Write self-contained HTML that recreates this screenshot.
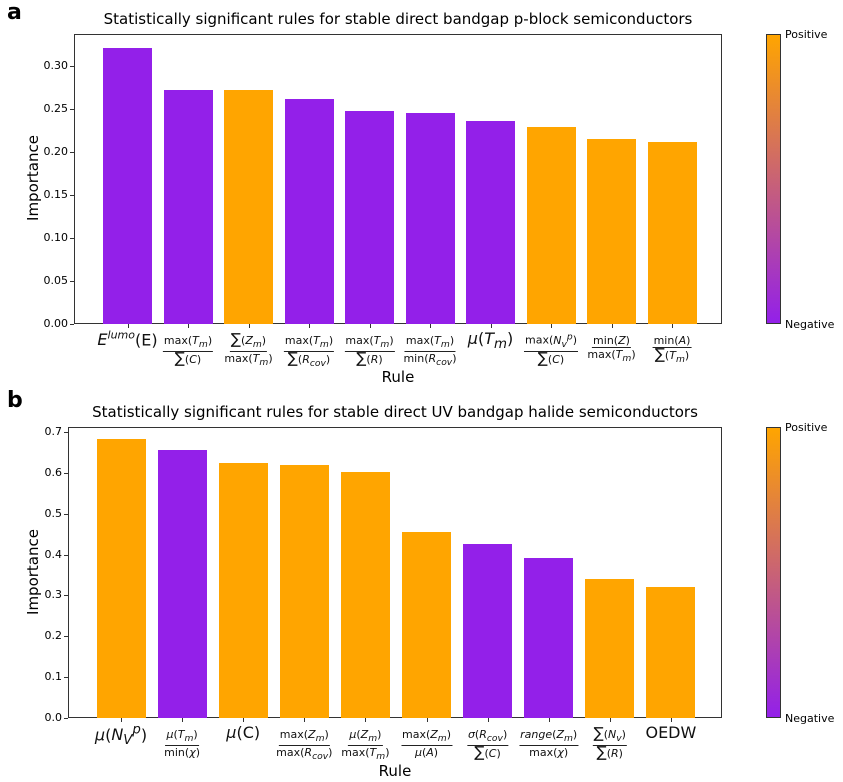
<!DOCTYPE html>
<html><head><meta charset="utf-8"><style>
body{margin:0;background:#fff;font-family:"DejaVu Sans","Liberation Sans",sans-serif;}
#root{position:relative;width:843px;height:782px;overflow:hidden;background:#fff}
.abs{position:absolute}
.panel{font-weight:bold;font-size:22px}
.title{font-size:15px;white-space:nowrap;transform:translateX(-50%)}
.ytick{font-size:11px;text-align:right;width:40px}
.lab{transform:translateX(-50%);text-align:center;white-space:nowrap;color:#111}
.frac{display:inline-flex;flex-direction:column;align-items:center;font-size:11px;line-height:13px}
.frac .n{border-bottom:1px solid #222;padding:0 1px}
.frac .s{font-size:15px}
.big{font-size:16px}
.axt{font-size:15px}
i{font-style:italic}
</style></head><body><div id="root"></div>
<script>
const catsA=['E^{lumo}(E)','max(Tm)/∑(C)','∑(Zm)/max(Tm)','max(Tm)/∑(Rcov)','max(Tm)/∑(R)','max(Tm)/min(Rcov)','μ(Tm)','max(NvP)/∑(C)','min(Z)/max(Tm)','min(A)/∑(Tm)'];
const valsA=[0.320,0.272,0.272,0.261,0.247,0.245,0.235,0.229,0.215,0.211];
const signA=['n','n','p','n','n','n','n','p','p','p'];
const ticksA=[0,0.05,0.10,0.15,0.20,0.25,0.30];
const catsB=['μ(NvP)','μ(Tm)/min(χ)','μ(C)','max(Zm)/max(Rcov)','μ(Zm)/max(Tm)','max(Zm)/μ(A)','σ(Rcov)/∑(C)','range(Zm)/max(χ)','∑(Nv)/∑(R)','OEDW'];
const valsB=[0.682,0.655,0.625,0.618,0.603,0.455,0.425,0.392,0.341,0.321];
const signB=['p','n','p','p','p','p','n','n','p','p'];
const ticksB=[0,0.1,0.2,0.3,0.4,0.5,0.6,0.7];
const S='<span class="s">∑</span>';
const labelsHtmlA=[
'<span class="big"><i>E<sup style="font-size:11px">lumo</sup></i>(E)</span>',
'<span class="frac"><span class="n">max(<i>T<sub>m</sub></i>)</span><span>'+S+'(<i>C</i>)</span></span>',
'<span class="frac"><span class="n">'+S+'(<i>Z<sub>m</sub></i>)</span><span>max(<i>T<sub>m</sub></i>)</span></span>',
'<span class="frac"><span class="n">max(<i>T<sub>m</sub></i>)</span><span>'+S+'(<i>R<sub>cov</sub></i>)</span></span>',
'<span class="frac"><span class="n">max(<i>T<sub>m</sub></i>)</span><span>'+S+'(<i>R</i>)</span></span>',
'<span class="frac"><span class="n">max(<i>T<sub>m</sub></i>)</span><span>min(<i>R<sub>cov</sub></i>)</span></span>',
'<span class="big"><i>μ</i>(<i>T<sub>m</sub></i>)</span>',
'<span class="frac"><span class="n">max(<i>N<sub>v</sub><sup>p</sup></i>)</span><span>'+S+'(<i>C</i>)</span></span>',
'<span class="frac"><span class="n">min(<i>Z</i>)</span><span>max(<i>T<sub>m</sub></i>)</span></span>',
'<span class="frac"><span class="n">min(<i>A</i>)</span><span>'+S+'(<i>T<sub>m</sub></i>)</span></span>'];
const labelsHtmlB=[
'<span class="big"><i>μ</i>(<i>N<sub>V</sub><sup>p</sup></i>)</span>',
'<span class="frac"><span class="n"><i>μ</i>(<i>T<sub>m</sub></i>)</span><span>min(<i>χ</i>)</span></span>',
'<span class="big"><i>μ</i>(C)</span>',
'<span class="frac"><span class="n">max(<i>Z<sub>m</sub></i>)</span><span>max(<i>R<sub>cov</sub></i>)</span></span>',
'<span class="frac"><span class="n"><i>μ</i>(<i>Z<sub>m</sub></i>)</span><span>max(<i>T<sub>m</sub></i>)</span></span>',
'<span class="frac"><span class="n">max(<i>Z<sub>m</sub></i>)</span><span><i>μ</i>(<i>A</i>)</span></span>',
'<span class="frac"><span class="n"><i>σ</i>(<i>R<sub>cov</sub></i>)</span><span>'+S+'(<i>C</i>)</span></span>',
'<span class="frac"><span class="n"><i>range</i>(<i>Z<sub>m</sub></i>)</span><span>max(<i>χ</i>)</span></span>',
'<span class="frac"><span class="n">'+S+'(<i>N<sub>v</sub></i>)</span><span>'+S+'(<i>R</i>)</span></span>',
'<span class="big">OEDW</span>'];
const PURPLE='#9320E9', ORANGE='#FFA500';
const root=document.getElementById('root');
function mk(cls,style,html){const d=document.createElement('div');d.className='abs '+(cls||'');Object.assign(d.style,style);if(html!==undefined)d.innerHTML=html;root.appendChild(d);return d;}
function chart(o){
  const {left,right,top,bottom,y0px,pxPerUnit,cats,vals,signs,ticks,labels,title,panel,panelY,dec,c0,step}=o;
  const y=v=>y0px-v*pxPerUnit;
  const x=i=>c0+i*step;
  let p=mk('panel',{left:'7px',top:panelY+'px'},panel);
  let t=mk('title',{left:(left+right)/2+'px',top:(top-24)+'px'},title);
  let f=mk('',{left:left+'px',top:top+'px',width:(right-left)+'px',height:(bottom-top)+'px',border:'1px solid #333',boxSizing:'border-box'});
  
  vals.forEach((v,i)=>{
    const b=mk('',{left:(x(i)-24.5)+'px',width:'49px',top:y(v)+'px',height:(bottom-y(v))+'px',background:signs[i]=='p'?ORANGE:PURPLE});
    
    b.title=cats[i]+': '+v;
    const tk=mk('',{left:x(i)+'px',top:bottom+'px',width:'1px',height:'4px',background:'#333'});
    
    const l=mk('lab',{left:x(i)+'px',top:(bottom+5)+'px'},labels[i]);
    
  });
  ticks.forEach(v=>{
    const tk=mk('',{left:(left-4)+'px',top:Math.round(y(v))+'px',width:'4px',height:'1px',background:'#333'});
    
    const l=mk('ytick',{left:(left-46)+'px',top:(y(v)-7)+'px'},v.toFixed(dec));
    
  });
  let yt=mk('axt',{left:'-17px',top:((top+bottom)/2-10)+'px',width:'100px',textAlign:'center',transform:'rotate(-90deg)'},'Importance');
  
  let xt=mk('axt',{left:((left+right)/2-50)+'px',top:(bottom+44)+'px',width:'100px',textAlign:'center'},'Rule');
  
  let cb=mk('',{left:'766px',top:top+'px',width:'15px',height:(bottom-top)+'px',background:'linear-gradient(to bottom,'+ORANGE+','+PURPLE+')',border:'1px solid #333',boxSizing:'border-box'});
  
  let pl=mk('',{left:'785px',top:(top-6)+'px',fontSize:'11px'},'Positive');
  let nl=mk('',{left:'785px',top:(bottom-6)+'px',fontSize:'11px'},'Negative');
}
chart({left:74,right:722,top:34,bottom:324,y0px:323.5,pxPerUnit:860,cats:catsA,vals:valsA,signs:signA,ticks:ticksA,labels:labelsHtmlA,title:'Statistically significant rules for stable direct bandgap p-block semiconductors',panel:'a',panelY:0,dec:2,c0:127.5,step:60.5});
chart({left:68,right:722,top:427,bottom:718,y0px:718,pxPerUnit:408.6,cats:catsB,vals:valsB,signs:signB,ticks:ticksB,labels:labelsHtmlB,title:'Statistically significant rules for stable direct UV bandgap halide semiconductors',panel:'b',panelY:388,dec:1,c0:121,step:61.1});
</script></body></html>
